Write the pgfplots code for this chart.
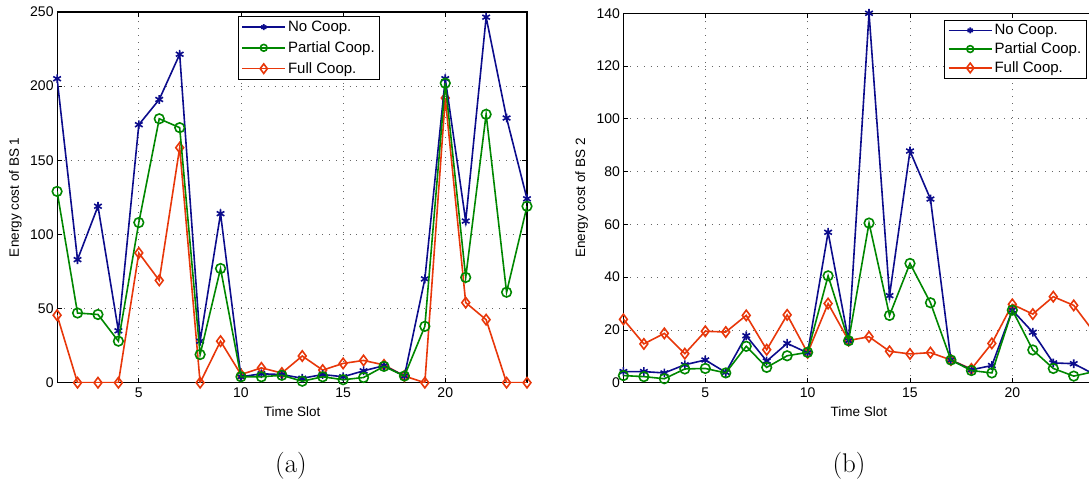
\documentclass[border=0pt]{standalone}
\usepackage{fontspec}
\usepackage{pgfplots}
\pgfplotsset{compat=1.18}
\newfontfamily\hv{Liberation Sans}
\definecolor{cblue}{RGB}{12,12,140}
\definecolor{cgreen}{RGB}{0,135,0}
\definecolor{cred}{RGB}{232,55,10}

\pgfplotsset{
  bsaxis/.style={
    scale only axis, anchor=south west,
    xmin=1, xmax=24, xtick={5,10,15,20}, ymin=0,
    tick align=inside, major tick length=5pt,
    grid=major,
    grid style={black!60, line width=0.7pt, dash pattern=on 0.8pt off 6pt},
    axis line style={line width=1.1pt, black},
    every tick/.style={black, line width=0.8pt},
    clip mode=individual,
    /pgf/number format/assume math mode=true,
    tick label style={font=\hv\fontsize{14}{16}\selectfont},
    xticklabel style={yshift=-1.5pt},
    xlabel={Time Slot},
    every axis x label/.style={at={(axis description cs:0.5,-0.079)}, anchor=center,
      font=\hv\fontsize{13.5}{16}\selectfont},
    every axis y label/.style={at={(axis description cs:-0.0885,0.5)}, anchor=center,
      rotate=90, font=\hv\fontsize{13.5}{16}\selectfont},
    legend cell align=left,
    legend style={font=\hv\fontsize{15}{17}\selectfont, draw=black, line width=0.9pt,
      inner xsep=3pt, inner ysep=2pt, row sep=1pt},
    legend image code/.code={\draw[mark repeat=2,mark phase=2]
      plot coordinates {(0pt,0pt) (21.5pt,0pt) (43pt,0pt)};},
  },
  nocoop/.style={color=cblue, line width=1.6pt, mark=asterisk, mark size=4.4pt,
    mark options={solid}},
  partial/.style={color=cgreen, line width=1.6pt, mark=o, mark size=4.8pt,
    mark options={solid}},
  full/.style={color=cred, line width=1.6pt, mark=diamond, mark size=5.2pt,
    mark options={solid}},
  % legend samples: same lines, smaller marks
  keys/.style={
    legend image code/.code={\draw[line width=1.6pt, mark repeat=2, mark phase=2]
      plot coordinates {(0pt,0pt) (21.5pt,0pt) (43pt,0pt)};}},
}

\begin{document}
\begin{tikzpicture}[x=1pt,y=1pt]
\useasboundingbox (0,0) rectangle (1089,486);
\clip (0,0) rectangle (1089,486);

% ---------------- BS 1 ----------------
\begin{axis}[bsaxis, overlay,
  at={(57.1pt,103.3pt)}, width=469.9pt, height=370.7pt,
  ymax=250, ytick={0,50,100,150,200,250},
  ylabel={Energy cost of BS 1},
  legend style={at={(0.385,0.99)}, anchor=north west, row sep=4.5pt, inner ysep=3pt}]
\addplot[full, forget plot] coordinates {
 (1,45.5)(2,0)(3,0)(4,0)(5,87.5)(6,69)(7,158.5)(8,0)(9,28)(10,5.5)(11,10)(12,6.5)
 (13,18)(14,8.5)(15,13)(16,15)(17,12)(18,4.5)(19,0)(20,192)(21,54)(22,42.5)(23,0)(24,0)};
\addplot[nocoop, forget plot] coordinates {
 (1,205)(2,83)(3,119)(4,35)(5,174)(6,191)(7,221.5)(8,28)(9,114)(10,4)(11,6)(12,5.5)
 (13,3)(14,5.5)(15,4)(16,8)(17,11.5)(18,4.5)(19,70)(20,205)(21,109)(22,246.5)(23,178.5)(24,124)};
\addplot[partial, forget plot] coordinates {
 (1,129)(2,47)(3,46)(4,28)(5,108)(6,178)(7,172)(8,19)(9,77)(10,4)(11,4)(12,5)
 (13,1)(14,4)(15,2)(16,3.5)(17,11)(18,4.5)(19,38)(20,202)(21,71)(22,181)(23,61)(24,119)};
\addlegendimage{nocoop, keys, mark size=3pt}
\addlegendentry{No Coop.}
\addlegendimage{partial, keys, mark size=3.4pt}
\addlegendentry{Partial Coop.}
\addlegendimage{full, keys, mark size=4.8pt}
\addlegendentry{Full Coop.}
\end{axis}

% ---------------- BS 2 ----------------
\begin{axis}[bsaxis, overlay,
  at={(623.4pt,103.3pt)}, width=470.8pt, height=369.4pt,
  ymax=140, ytick={0,20,40,60,80,100,120,140},
  ylabel={Energy cost of BS 2},
  legend style={at={(0.984,0.982)}, anchor=north east, row sep=2.5pt}]
\addplot[full, forget plot] coordinates {
 (1,24)(2,14.7)(3,18.7)(4,11)(5,19.5)(6,19.2)(7,25.5)(8,12.5)(9,25.7)(10,11.3)(11,30)(12,16)
 (13,17.4)(14,11.9)(15,10.9)(16,11.4)(17,8.6)(18,5.2)(19,14.9)(20,29.7)(21,26)(22,32.6)(23,29.3)(24,19)};
\addplot[nocoop, forget plot] coordinates {
 (1,4.2)(2,4.2)(3,3.7)(4,6.8)(5,8.6)(6,3.9)(7,17.8)(8,8.2)(9,14.9)(10,11.3)(11,57)(12,15.9)
 (13,140)(14,33)(15,87.8)(16,69.6)(17,8.6)(18,4.9)(19,6.5)(20,27.5)(21,19.1)(22,7.5)(23,7.2)(24,3.2)};
\addplot[partial, forget plot] coordinates {
 (1,2.7)(2,2.3)(3,1.5)(4,5.2)(5,5.4)(6,3.7)(7,13.8)(8,5.8)(9,10.2)(10,11.5)(11,40.5)(12,15.9)
 (13,60.5)(14,25.5)(15,45.2)(16,30.3)(17,8.6)(18,4.6)(19,3.7)(20,27.5)(21,12.4)(22,5.4)(23,2.5)(24,4.2)};
\addlegendimage{nocoop, keys, mark size=3pt}
\addlegendentry{No Coop.}
\addlegendimage{partial, keys, mark size=3.4pt}
\addlegendentry{Partial Coop.}
\addlegendimage{full, keys, mark size=4.8pt}
\addlegendentry{Full Coop.}
\end{axis}

% sub-figure captions
\node[font=\fontsize{27}{30}\selectfont] at (291,20) {(a)};
\node[font=\fontsize{27}{30}\selectfont] at (849,20) {(b)};
\end{tikzpicture}
\end{document}
